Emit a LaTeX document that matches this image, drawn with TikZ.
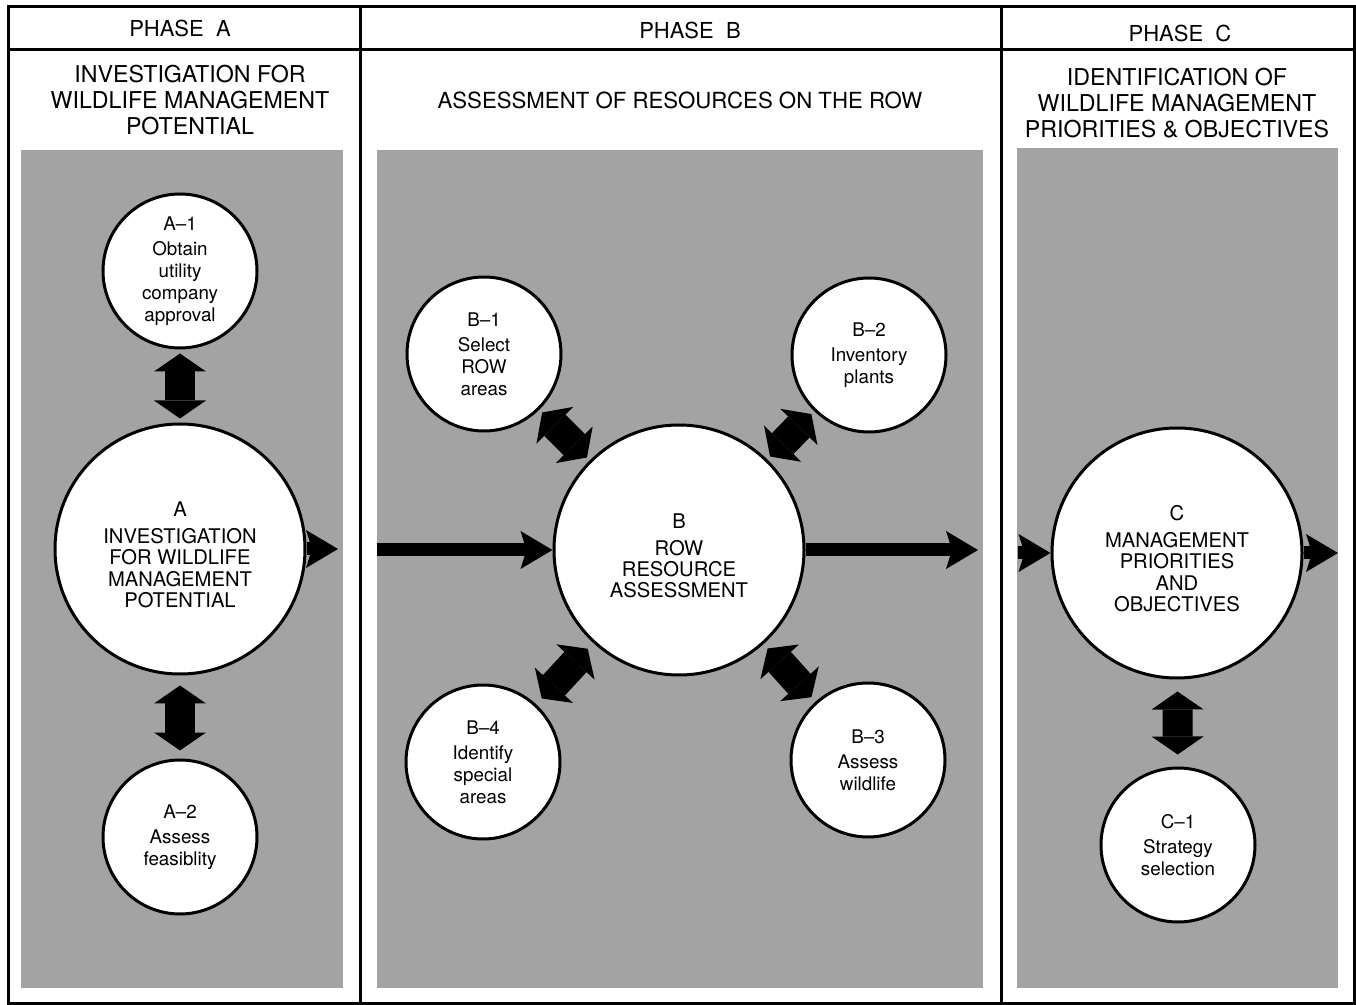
\documentclass[tikz,border=0pt]{standalone}
\usepackage{fontspec}
\setmainfont{TeX Gyre Heros}
\usetikzlibrary{positioning,arrows.meta}
\newcommand{\toppad}{\rule{0pt}{13pt}}

\begin{document}
\begin{tikzpicture}[x=0.5pt,y=-0.5pt,
  panel/.style={fill=black!36,draw=none},
  bubble/.style={circle,draw,fill=white,line width=1.5pt,inner sep=0pt,minimum size=77pt,align=center,font=\fontsize{9.4}{11}\selectfont},
  bigbubble/.style={bubble,minimum size=125pt,font=\fontsize{10.1}{10.6}\selectfont},
  dblarrow/.style={line width=15pt,{Triangle[length=9pt,width=26pt,line width=0pt]}-{Triangle[length=9pt,width=26pt,line width=0pt]},shorten <=2pt,shorten >=2pt},
  flowarrow/.style={line width=6.5pt,-{Stealth[length=16pt,width=19pt,inset=3pt,line width=0pt]}},
  phase/.style={font=\fontsize{11}{13}\selectfont},
  heading/.style={align=center,font=\fontsize{11.6}{13}\selectfont}]
\useasboundingbox (0,0) rectangle (1356,1005);
\fill[white] (0,0) rectangle (1356,1005);
\fill[panel] (21,150) rectangle (343,988);
\fill[panel] (377,150) rectangle (983,988);
\fill[panel] (1017,148) rectangle (1338,988);
\draw[line width=1.5pt] (8,7) rectangle (1354,1003);
\draw[line width=1.5pt] (8,50) -- (1354,50);
\draw[line width=1.5pt] (360,7) -- (360,1003);
\draw[line width=1.5pt] (1001,7) -- (1001,1003);
\node[phase] (phA) at (180,28) {PHASE\ \ A};
\node[phase] (phB) at (690,30) {PHASE\ \ B};
\node[phase] (phC) at (1180,33) {PHASE\ \ C};
\node[heading] (tA) at (190,100) {INVESTIGATION FOR\\WILDLIFE MANAGEMENT\\POTENTIAL};
\node[heading,font=\fontsize{11.1}{13}\selectfont] (tB) at (680,100) {ASSESSMENT OF RESOURCES ON THE ROW};
\node[heading] (tC) at (1177,103) {IDENTIFICATION OF\\WILDLIFE MANAGEMENT\\PRIORITIES \& OBJECTIVES};
\node[bubble] (a1) at (180,271) {A--1\\[1.5pt]Obtain\\utility\\company\\approval};
\node[bigbubble] (a) at (180,549) {\toppad A\\[3pt]INVESTIGATION\\FOR WILDLIFE\\MANAGEMENT\\POTENTIAL};
\node[bubble] (a2) at (180,837) {A--2\\[1.5pt]Assess\\feasiblity};
\node[bubble] (b1) at (484,354) {B--1\\[1.5pt]Select\\ROW\\areas};
\node[bubble] (b2) at (869,355) {B--2\\[1.5pt]Inventory\\plants};
\node[bigbubble] (b) at (679,550) {\toppad B\\[3pt]ROW\\RESOURCE\\ASSESSMENT};
\node[bubble] (b4) at (483,762) {B--4\\[1.5pt]Identify\\special\\areas};
\node[bubble] (b3) at (868,760) {B--3\\[1.5pt]Assess\\wildlife};
\node[bigbubble] (c) at (1177,553) {\toppad C\\[3pt]MANAGEMENT\\PRIORITIES\\AND\\OBJECTIVES};
\node[bubble] (c1) at (1178,845) {C--1\\[1.5pt]Strategy\\selection};
\coordinate (aout) at (338,549);
\coordinate (bin) at (377,550);
\coordinate (bout) at (978,550);
\coordinate (cin) at (1018,553);
\coordinate (cout) at (1338,553);
\draw[flowarrow] (a) -- (aout);
\draw[flowarrow] (bin) -- (b);
\draw[flowarrow] (b) -- (bout);
\draw[flowarrow] (cin) -- (c);
\draw[flowarrow] (c) -- (cout);
\draw[dblarrow] (a1) -- (a);
\draw[dblarrow,shorten <=5pt,shorten >=4pt] (a) -- (a2);
\draw[dblarrow] (b1) -- (b);
\draw[dblarrow] (b2) -- (b);
\draw[dblarrow,shorten <=4pt,shorten >=4pt] (b4) -- (b);
\draw[dblarrow,shorten <=3pt,shorten >=3pt] (b3) -- (b);
\draw[dblarrow,shorten <=6pt,shorten >=6pt] (c) -- (c1);
\end{tikzpicture}
\end{document}
